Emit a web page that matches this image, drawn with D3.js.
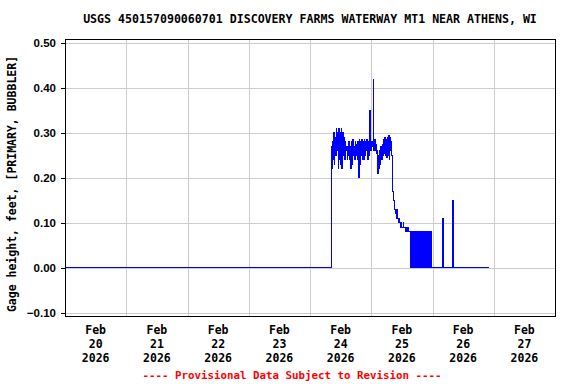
<!DOCTYPE html>
<html>

<head>
    <meta charset="utf-8">
    <style>
        body {
            margin: 0;
            background: white;
        }

        svg {
            display: block;
            font-family: 'DejaVu Sans Mono', monospace;
            font-weight: bold;
        }

        .grid line {
            stroke: #cccccc;
            stroke-width: 1;
            shape-rendering: crispEdges;
        }

        .y .tick line {
            stroke: black;
            shape-rendering: crispEdges;
        }

        .y .domain {
            display: none;
        }

        .y .tick text {
            font-size: 11.5px;
            fill: black;
        }

        .xlab {
            font-size: 11.5px;
        }

        .title {
            font-size: 11.6px;
        }

        .ylab {
            font-size: 11.5px;
        }

        .footer {
            font-size: 10.8px;
            fill: #ff0000;
        }
    </style>
</head>

<body>
    <svg width="576" height="384"></svg>

    <script src="https://d3js.org/d3.v7.min.js"></script>
    <script>
        // data
        let titleText = "USGS 450157090060701 DISCOVERY FARMS WATERWAY MT1 NEAR ATHENS, WI";
        let yLabelText = "Gage height, feet, [PRIMARY, BUBBLER]";
        let footerText = "---- Provisional Data Subject to Revision ----";

        let yTicks = [-0.10, 0.00, 0.10, 0.20, 0.30, 0.40, 0.50];
        let dayTicks = ["2026-02-20", "2026-02-21", "2026-02-22", "2026-02-23",
            "2026-02-24", "2026-02-25", "2026-02-26", "2026-02-27"];

        // sparse points (zero stretches and the two spikes on Feb 26)
        let sparseTimes = ["2026-02-20T00:00", "2026-02-24T08:00",
            "2026-02-26T00:00", "2026-02-26T03:45", "2026-02-26T04:00", "2026-02-26T04:15",
            "2026-02-26T07:45", "2026-02-26T08:00", "2026-02-26T08:15", "2026-02-26T22:00"];
        let sparseValues = [0, 0,
            0, 0, 0.11, 0,
            0, 0.15, 0, 0];

        // 15-minute readings from Feb 24 08:15 to Feb 25 23:45
        let burstStart = "2026-02-24T08:15";
        let burstStepMin = 15;
        let burstValues = [
            0.27, 0.22, 0.28,                // 08h
            0.24, 0.30, 0.23, 0.29,          // 09h
            0.25, 0.31, 0.26, 0.30,          // 10h
            0.22, 0.31, 0.24, 0.30,          // 11h
            0.23, 0.31, 0.22, 0.30,          // 12h
            0.25, 0.29, 0.24, 0.28,          // 13h
            0.26, 0.27, 0.24, 0.27,          // 14h
            0.25, 0.28, 0.24, 0.27,          // 15h
            0.22, 0.28, 0.23, 0.285,         // 16h
            0.25, 0.27, 0.24, 0.28,          // 17h
            0.25, 0.275, 0.24, 0.28,         // 18h
            0.20, 0.285, 0.23, 0.28,         // 19h
            0.25, 0.285, 0.24, 0.28,         // 20h
            0.24, 0.285, 0.25, 0.28,         // 21h
            0.26, 0.285, 0.24, 0.28,         // 22h
            0.25, 0.28, 0.35, 0.26,          // 23h
            0.26, 0.28, 0.27, 0.42,          // Feb 25 00h
            0.26, 0.285, 0.26, 0.275,        // 01h
            0.255, 0.26, 0.21, 0.25,         // 02h
            0.22, 0.26, 0.23, 0.27,          // 03h
            0.24, 0.275, 0.25, 0.285,        // 04h
            0.255, 0.29, 0.25, 0.285,        // 05h
            0.245, 0.29, 0.25, 0.295,        // 06h
            0.24, 0.29, 0.26, 0.28,          // 07h
            0.25, 0.21, 0.17, 0.15,          // 08h
            0.14, 0.13, 0.12, 0.11,          // 09h
            0.13, 0.11, 0.10, 0.11,          // 10h
            0.10, 0.10, 0.09, 0.10,          // 11h
            0.09, 0.09, 0.10, 0.09,          // 12h
            0.09, 0.08, 0.09, 0.08,          // 13h
            0.09, 0.08, 0.09, 0.08,          // 14h
            0.08, 0.00, 0.08, 0.00,          // 15h
            0.08, 0.00, 0.08, 0.00,          // 16h
            0.08, 0.00, 0.08, 0.00,          // 17h
            0.08, 0.00, 0.08, 0.00,          // 18h
            0.08, 0.00, 0.08, 0.00,          // 19h
            0.08, 0.00, 0.08, 0.00,          // 20h
            0.08, 0.00, 0.08, 0.00,          // 21h
            0.08, 0.00, 0.08, 0.00,          // 22h
            0.08, 0.00, 0.08, 0.00           // 23h
        ];

        let svg = d3.select("svg");

        let plot = { left: 65, right: 555, top: 39, bottom: 316 };

        let parseTime = d3.timeParse("%Y-%m-%dT%H:%M");
        let parseDay = d3.timeParse("%Y-%m-%d");

        let points = sparseTimes.map((t, i) => ({ t: parseTime(t), v: sparseValues[i] }));
        let t0 = parseTime(burstStart);
        burstValues.forEach((v, i) => {
            points.push({ t: d3.timeMinute.offset(t0, i * burstStepMin), v: v });
        });
        points.sort((a, b) => a.t - b.t);

        let x = d3.scaleTime()
            .domain([parseDay("2026-02-20"), parseDay("2026-02-28")])
            .range([plot.left, plot.right]);

        let y = d3.scaleLinear()
            .domain([-0.1067, 0.5089])
            .range([plot.bottom, plot.top]);

        // grid
        let grid = svg.append("g").attr("class", "grid");
        grid.selectAll(".hg")
            .data(yTicks)
            .join("line")
            .attr("x1", plot.left)
            .attr("x2", plot.right)
            .attr("y1", d => Math.round(y(d)) + 0.5)
            .attr("y2", d => Math.round(y(d)) + 0.5);

        grid.selectAll(".vg")
            .data(dayTicks.slice(1).concat(["2026-02-28"]))
            .join("line")
            .attr("x1", d => Math.round(x(parseDay(d))) + 0.5)
            .attr("x2", d => Math.round(x(parseDay(d))) + 0.5)
            .attr("y1", plot.top)
            .attr("y2", plot.bottom);

        // y axis
        let yAxisSettings = d3.axisLeft(y)
            .tickValues(yTicks)
            .tickSize(4)
            .tickPadding(5)
            .tickFormat(d3.format(".2f"));

        svg.append("g")
            .attr("class", "y axis")
            .attr("transform", `translate(${plot.left}, 0)`)
            .call(yAxisSettings);

        // data line, drawn as steps so the dense readings fill like the original
        let line = d3.line()
            .curve(d3.curveStepAfter)
            .x(d => x(d.t))
            .y(d => y(d.v));

        svg.append("path")
            .datum(points)
            .attr("fill", "none")
            .attr("stroke", "#0000ff")
            .attr("stroke-width", 1)
            .attr("shape-rendering", "crispEdges")
            .attr("d", line);

        // frame
        svg.append("rect")
            .attr("x", plot.left + 0.5)
            .attr("y", plot.top + 0.5)
            .attr("width", plot.right - plot.left)
            .attr("height", plot.bottom - plot.top)
            .attr("fill", "none")
            .attr("stroke", "black")
            .attr("shape-rendering", "crispEdges");

        // x labels at noon of each day
        let fmtMon = d3.timeFormat("%b");
        let fmtDay = d3.timeFormat("%d");
        let fmtYear = d3.timeFormat("%Y");

        let xl = svg.selectAll(".xlab")
            .data(dayTicks)
            .join("text")
            .attr("class", "xlab")
            .attr("text-anchor", "middle")
            .attr("transform", d => `translate(${x(d3.timeHour.offset(parseDay(d), 12))}, 334)`);

        xl.append("tspan").attr("x", 0).attr("y", 0).text(d => fmtMon(parseDay(d)));
        xl.append("tspan").attr("x", 0).attr("y", 14).text(d => fmtDay(parseDay(d)));
        xl.append("tspan").attr("x", 0).attr("y", 28).text(d => fmtYear(parseDay(d)));

        svg.append("text")
            .attr("class", "title")
            .attr("x", 310)
            .attr("y", 23)
            .attr("text-anchor", "middle")
            .text(titleText);

        svg.append("text")
            .attr("class", "ylab")
            .attr("transform", "translate(16, 184) rotate(-90)")
            .attr("text-anchor", "middle")
            .text(yLabelText);

        svg.append("text")
            .attr("class", "footer")
            .attr("x", 292)
            .attr("y", 379)
            .attr("text-anchor", "middle")
            .text(footerText);
    </script>
</body>

</html>
